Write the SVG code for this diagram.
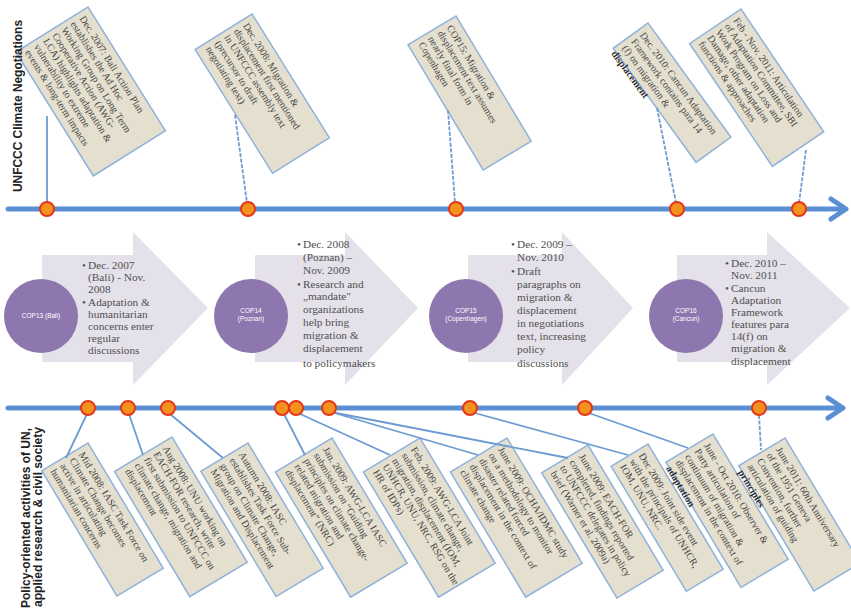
<svg xmlns="http://www.w3.org/2000/svg" width="851" height="614" viewBox="0 0 851 614">
<style>
.box{fill:#e4dfce;stroke:#8fb2da;stroke-width:1.5}
.bt{font-family:"Liberation Serif","Times New Roman",serif;font-size:10px;fill:#454545}
.ov{fill:#2a2a2a;font-weight:bold}
.con{stroke:#6d9bd3;stroke-width:1.8;fill:none}
.dash{stroke-dasharray:4 1.5}
.axis{stroke:#5b8fd4;stroke-width:5;fill:none;stroke-linecap:round;stroke-linejoin:round}
.dot{fill:#f5921e;stroke:#e2371c;stroke-width:2}
.chev{fill:#e4e1ea}
.cop{fill:#8e76ae}
.ct{font-family:"Liberation Sans",Arial,sans-serif;font-size:6.5px;fill:#ffffff;text-anchor:middle}
.at{font-family:"Liberation Serif","Times New Roman",serif;font-size:11.3px;fill:#505050}
.lab{font-family:"Liberation Sans",Arial,sans-serif;font-weight:bold;font-size:12px;fill:#222222;text-anchor:middle}
</style>

<!-- axes -->
<g id="axes">
<line class="axis" x1="8" y1="209" x2="843" y2="209"/>
<polyline class="axis" points="831,199 846,209 831,219"/>
<line class="axis" x1="8" y1="408" x2="840" y2="408"/>
<polyline class="axis" points="828,398 843,408 828,418"/>
</g>

<!-- middle phases -->
<g id="phase1">
<polygon class="chev" points="42,255 133,255 133,232 208,308 133,385 133,362 42,362"/>
<circle class="cop" cx="41" cy="316" r="37"/>
<text class="ct" x="41" y="318">COP13 (Bali)</text>
<text class="at" x="82" y="269">•</text><text class="at" x="88" y="269">Dec. 2007</text>
<text class="at" x="88" y="281">(Bali)  - Nov.</text>
<text class="at" x="88" y="293">2008</text>
<text class="at" x="82" y="305.5">•</text><text class="at" x="88" y="305.5">Adaptation &amp;</text>
<text class="at" x="88" y="317.5">humanitarian</text>
<text class="at" x="88" y="329.5">concerns enter</text>
<text class="at" x="88" y="341.5">regular</text>
<text class="at" x="88" y="353.5">discussions</text>
</g>
<g id="phase2">
<polygon class="chev" points="255,255 345,255 345,232 418,308 345,385 345,362 255,362"/>
<circle class="cop" cx="251" cy="316" r="37"/>
<text class="ct" x="251" y="313">COP14</text>
<text class="ct" x="251" y="321">(Poznan)</text>
<text class="at" x="297" y="248">•</text><text class="at" x="303" y="248">Dec. 2008</text>
<text class="at" x="303" y="261">(Poznan) –</text>
<text class="at" x="303" y="274">Nov. 2009</text>
<text class="at" x="297" y="287.5">•</text><text class="at" x="303" y="287.5">Research and</text>
<text class="at" x="303" y="300">„mandate"</text>
<text class="at" x="303" y="313">organizations</text>
<text class="at" x="303" y="326">help bring</text>
<text class="at" x="303" y="339">migration &amp;</text>
<text class="at" x="303" y="352">displacement</text>
<text class="at" x="303" y="367">to policymakers</text>
</g>
<g id="phase3">
<polygon class="chev" points="468,255 562,255 562,232 633,308 562,385 562,362 468,362"/>
<circle class="cop" cx="466" cy="316" r="37"/>
<text class="ct" x="466" y="313">COP15</text>
<text class="ct" x="466" y="321">(Copenhagen)</text>
<text class="at" x="511" y="248">•</text><text class="at" x="517" y="248">Dec. 2009 –</text>
<text class="at" x="517" y="261">Nov. 2010</text>
<text class="at" x="511" y="275">•</text><text class="at" x="517" y="275">Draft</text>
<text class="at" x="517" y="288">paragraphs on</text>
<text class="at" x="517" y="301">migration &amp;</text>
<text class="at" x="517" y="314">displacement</text>
<text class="at" x="517" y="327">in negotiations</text>
<text class="at" x="517" y="340">text, increasing</text>
<text class="at" x="517" y="353">policy</text>
<text class="at" x="517" y="367">discussions</text>
</g>
<g id="phase4">
<polygon class="chev" points="677,255 767,255 767,232 850,308 767,385 767,362 677,362"/>
<circle class="cop" cx="686" cy="316" r="37"/>
<text class="ct" x="686" y="313">COP16</text>
<text class="ct" x="686" y="321">(Cancun)</text>
<text class="at" x="725" y="267">•</text><text class="at" x="731" y="267">Dec. 2010 –</text>
<text class="at" x="731" y="279">Nov. 2011</text>
<text class="at" x="725" y="292">•</text><text class="at" x="731" y="292">Cancun</text>
<text class="at" x="731" y="304">Adaptation</text>
<text class="at" x="731" y="316">Framework</text>
<text class="at" x="731" y="328">features para</text>
<text class="at" x="731" y="340">14(f) on</text>
<text class="at" x="731" y="352">migration &amp;</text>
<text class="at" x="731" y="365">displacement</text>
</g>

<!-- top callouts -->
<g id="t1" transform="translate(88,7) rotate(58)">
<rect class="box" width="146" height="85"/>
<text class="bt"><tspan x="5" y="13.5">Dec. 2007: Bali Action Plan</tspan><tspan x="5" y="24.2">establishes the Ad Hoc</tspan><tspan x="5" y="34.9">Working Group on Long Term</tspan><tspan x="5" y="45.6">Cooperative Action (AWG-</tspan><tspan x="5" y="56.3">LCA) highlights adaptation &amp;</tspan><tspan x="5" y="67">vulnerability to extreme</tspan><tspan x="5" y="77.7">events &amp; long-term impacts</tspan></text>
</g>
<g id="t2" transform="translate(252,14) rotate(58)">
<rect class="box" width="146" height="67"/>
<text class="bt"><tspan x="5" y="14">Dec. 2008: Migration &amp;</tspan><tspan x="5" y="25">displacement first mentioned</tspan><tspan x="5" y="36">in  UNFCCC  assembly text</tspan><tspan x="5" y="47">(precursor to draft</tspan><tspan x="5" y="58">negotiating text)</tspan></text>
</g>
<g id="t3" transform="translate(456,16) rotate(59)">
<rect class="box" width="146" height="56"/>
<text class="bt"><tspan x="5" y="14">COP15: Migration &amp;</tspan><tspan x="5" y="25">displacement text assumes</tspan><tspan x="5" y="36">nearly final form in</tspan><tspan x="5" y="47">Copenhagen</tspan></text>
</g>
<g id="t4" transform="translate(648,23) rotate(54)">
<rect class="box" width="141" height="43"/>
<text class="bt"><tspan x="5" y="14">Dec. 2010: Cancun Adaptation</tspan><tspan x="5" y="25">Framework contains para 14</tspan><tspan x="5" y="36">(f) on migration &amp;</tspan><tspan class="ov" x="3" y="48">displacement</tspan></text>
</g>
<g id="t5" transform="translate(741,9) rotate(56)">
<rect class="box" width="148" height="62"/>
<text class="bt"><tspan x="5" y="13">Feb - Nov. 2011: Articulation</tspan><tspan x="5" y="23.5">of Adaptation Committee, SBI</tspan><tspan x="5" y="34">Work Program on Loss and</tspan><tspan x="5" y="44.5">Damage, other adaptation</tspan><tspan x="5" y="55">functions &amp; approaches</tspan></text>
</g>

<!-- bottom callouts -->
<g id="b1" transform="translate(88,443) rotate(59)">
<rect class="box" width="146" height="54"/>
<text class="bt"><tspan x="5" y="14">Mid 2008: IASC Task Force on</tspan><tspan x="5" y="25">Climate Change becomes</tspan><tspan x="5" y="36">active in articulating</tspan><tspan x="5" y="47">humanitarian concerns</tspan></text>
</g>
<g id="b2" transform="translate(172,437) rotate(59)">
<rect class="box" width="146" height="67"/>
<text class="bt"><tspan x="5" y="14">Aug 2008: UNU working on</tspan><tspan x="5" y="25">EACH-FOR research, write</tspan><tspan x="5" y="36">first submission to UNFCCC on</tspan><tspan x="5" y="47">climate change, migration and</tspan><tspan x="5" y="58">displacement</tspan></text>
</g>
<g id="b3" transform="translate(248,443) rotate(59)">
<rect class="box" width="146" height="55"/>
<text class="bt"><tspan x="5" y="14">Autumn 2008: IASC</tspan><tspan x="5" y="25">establishes Task Force Sub-</tspan><tspan x="5" y="36">group on Climate Change,</tspan><tspan x="5" y="47">Migration and Displacement</tspan></text>
</g>
<g id="b4" transform="translate(332,438) rotate(59)">
<rect class="box" width="146" height="66"/>
<text class="bt"><tspan x="5" y="14">Jan. 2009: AWG-LCA IASC</tspan><tspan x="5" y="25">submission on “Guiding</tspan><tspan x="5" y="36">principles on climate change-</tspan><tspan x="5" y="47">related migration and</tspan><tspan x="5" y="58">displacement” (NRC)</tspan></text>
</g>
<g id="b5" transform="translate(420,438) rotate(59)">
<rect class="box" width="146" height="66"/>
<text class="bt"><tspan x="5" y="14">Feb. 2009: AWG-LCA Joint</tspan><tspan x="5" y="25">submission, climate change,</tspan><tspan x="5" y="36">migration, displacement (IOM,</tspan><tspan x="5" y="47">UNHCR, UNU, NRC, RSG on the</tspan><tspan x="5" y="58">HR of IDPs)</tspan></text>
</g>
<g id="b6" transform="translate(507,438) rotate(59)">
<rect class="box" width="146" height="66"/>
<text class="bt"><tspan x="5" y="14">June 2009: OCHA/IDMC study</tspan><tspan x="5" y="25">on a methodology to monitor</tspan><tspan x="5" y="36">disaster related forced</tspan><tspan x="5" y="47">displacement in the context of</tspan><tspan x="5" y="58">climate change</tspan></text>
</g>
<g id="b7" transform="translate(588,445) rotate(59)">
<rect class="box" width="146" height="54"/>
<text class="bt"><tspan x="5" y="14">June 2009: EACH-FOR</tspan><tspan x="5" y="25">completed, findings reported</tspan><tspan x="5" y="36">to UNFCCC delegates in policy</tspan><tspan x="5" y="47">brief (Warner et al. 2009a)</tspan></text>
</g>
<g id="b8" transform="translate(648,444) rotate(59)">
<rect class="box" width="146" height="43"/>
<text class="bt"><tspan x="5" y="14">Dec 2009: Joint side event</tspan><tspan x="5" y="25">with the principals of UNHCR,</tspan><tspan x="5" y="36">IOM, UNU, NRC.</tspan></text>
</g>
<g id="b9" transform="translate(713,434) rotate(59)">
<rect class="box" width="146" height="55"/>
<text class="bt"><tspan x="5" y="14">June - Oct 2010: Observer &amp;</tspan><tspan x="5" y="25">Party articulation of</tspan><tspan x="5" y="36">continuum of migration &amp;</tspan><tspan x="5" y="47">displacement in the context of</tspan><tspan class="ov" x="5" y="58">adaptation</tspan></text>
</g>
<g id="b10" transform="translate(785,438) rotate(59)">
<rect class="box" width="146" height="54"/>
<text class="bt"><tspan x="5" y="14">June 2011: 60th Anniversary</tspan><tspan x="5" y="25">of the 1951 Geneva</tspan><tspan x="5" y="36">Convention, further</tspan><tspan x="5" y="47">articulation of guiding</tspan><tspan class="ov" x="5" y="58">principles</tspan></text>
</g>

<!-- connectors -->
<g id="connectors">
<line class="con" x1="47" y1="116" x2="47" y2="203"/>
<line class="con dash" x1="235" y1="115" x2="247" y2="203"/>
<line class="con dash" x1="448" y1="110" x2="455" y2="203"/>
<line class="con dash" x1="657" y1="108" x2="676" y2="203"/>
<line class="con dash" x1="806" y1="150" x2="799" y2="203"/>
<line class="con" x1="87" y1="414" x2="66" y2="458"/>
<line class="con" x1="129" y1="414" x2="143" y2="455"/>
<line class="con" x1="170" y1="414" x2="223" y2="458"/>
<line class="con" x1="284" y1="414" x2="305" y2="455"/>
<line class="con" x1="298" y1="413" x2="390" y2="455"/>
<line class="con" x1="331" y1="412" x2="478" y2="455"/>
<line class="con" x1="331" y1="412" x2="568" y2="458"/>
<line class="con" x1="471" y1="412" x2="628" y2="455"/>
<line class="con" x1="586" y1="412" x2="688" y2="448"/>
<line class="con dash" x1="759" y1="415" x2="761" y2="450"/>
</g>

<!-- dots -->
<g id="dots">
<circle class="dot" cx="47" cy="209" r="7"/>
<circle class="dot" cx="248" cy="209" r="7"/>
<circle class="dot" cx="456" cy="209" r="7"/>
<circle class="dot" cx="677" cy="209" r="7"/>
<circle class="dot" cx="799" cy="209" r="7"/>
<circle class="dot" cx="88" cy="408" r="7"/>
<circle class="dot" cx="128" cy="408" r="7"/>
<circle class="dot" cx="168" cy="408" r="7"/>
<circle class="dot" cx="282" cy="408" r="7"/>
<circle class="dot" cx="296" cy="408" r="7"/>
<circle class="dot" cx="329" cy="408" r="7"/>
<circle class="dot" cx="470" cy="408" r="7"/>
<circle class="dot" cx="585" cy="408" r="7"/>
<circle class="dot" cx="759" cy="408" r="7"/>
</g>

<!-- side labels -->
<text class="lab" transform="translate(22,106) rotate(-90)" textLength="172" lengthAdjust="spacingAndGlyphs">UNFCCC Climate Negotiations</text>
<text class="lab" transform="translate(30,518) rotate(-90)" textLength="180" lengthAdjust="spacingAndGlyphs">Policy-oriented activities of UN,</text>
<text class="lab" transform="translate(42,517) rotate(-90)" textLength="180" lengthAdjust="spacingAndGlyphs">applied research &amp; civil society</text>
</svg>
